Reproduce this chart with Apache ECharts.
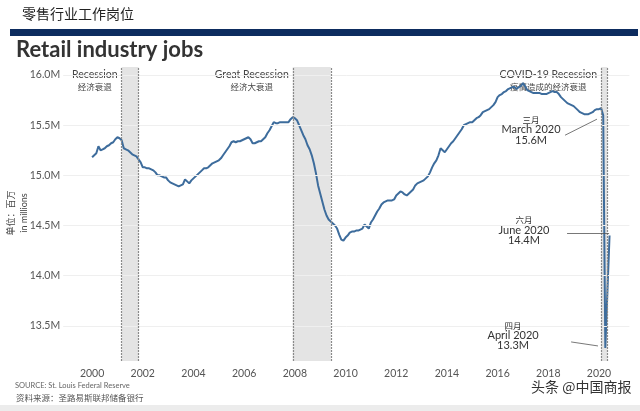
<!DOCTYPE html>
<html>
<head>
<meta charset="utf-8">
<script src="https://cdn.jsdelivr.net/npm/echarts@6/dist/echarts.min.js"></script>
<style>
html,body{margin:0;padding:0;background:#fff;}
#c{width:640px;height:411px;}
</style>
</head>
<body>
<div id="c"></div>
<script>
// ---- data ----
const firstYear = 2000; // first month = Jan 2000, monthly values (millions)
const retailJobs = [
  15.18,15.20,15.22,15.29,15.25,15.26,15.27,15.29,15.30,15.32,15.33,15.36, // 2000
  15.38,15.37,15.35,15.27,15.26,15.25,15.23,15.21,15.20,15.19,15.16,15.13, // 2001
  15.08,15.08,15.07,15.07,15.06,15.05,15.03,15.00,15.00,14.99,14.98,14.98, // 2002
  14.95,14.93,14.92,14.91,14.90,14.89,14.90,14.91,14.96,14.94,14.92,14.95, // 2003
  14.97,14.99,15.01,15.03,15.05,15.07,15.07,15.08,15.10,15.12,15.13,15.14, // 2004
  15.15,15.17,15.20,15.23,15.26,15.29,15.33,15.34,15.33,15.34,15.34,15.35, // 2005
  15.36,15.37,15.38,15.36,15.32,15.32,15.33,15.34,15.34,15.36,15.38,15.42, // 2006
  15.45,15.49,15.53,15.52,15.52,15.53,15.53,15.53,15.53,15.53,15.56,15.58, // 2007
  15.57,15.55,15.50,15.45,15.40,15.36,15.30,15.26,15.20,15.12,15.02,14.90, // 2008
  14.82,14.74,14.66,14.60,14.56,14.54,14.52,14.50,14.47,14.41,14.36,14.35, // 2009
  14.38,14.40,14.43,14.44,14.44,14.45,14.45,14.46,14.47,14.51,14.49,14.47, // 2010
  14.53,14.56,14.60,14.64,14.67,14.71,14.73,14.74,14.75,14.75,14.75,14.76, // 2011
  14.80,14.82,14.84,14.83,14.81,14.80,14.82,14.84,14.86,14.90,14.92,14.93, // 2012
  14.94,14.95,14.97,14.99,15.03,15.08,15.12,15.15,15.20,15.27,15.25,15.23, // 2013
  15.26,15.29,15.32,15.34,15.37,15.40,15.43,15.46,15.50,15.51,15.52,15.53, // 2014
  15.53,15.55,15.57,15.58,15.60,15.63,15.64,15.65,15.66,15.68,15.70,15.73, // 2015
  15.78,15.80,15.81,15.83,15.84,15.86,15.87,15.88,15.88,15.86,15.88,15.89, // 2016
  15.92,15.89,15.85,15.84,15.83,15.82,15.82,15.82,15.82,15.81,15.81,15.81, // 2017
  15.82,15.83,15.84,15.83,15.83,15.81,15.78,15.76,15.74,15.72,15.71,15.70, // 2018
  15.69,15.67,15.65,15.63,15.62,15.61,15.61,15.61,15.62,15.63,15.65,15.66, // 2019
  15.66,15.67,15.60,13.28,13.85,14.40                                      // 2020
];
const yearTicks = [2000,2002,2004,2006,2008,2010,2012,2014,2016,2018,2020];
const valueTicks = [13.5,14.0,14.5,15.0,15.5,16.0];
const recessions = [
  {start:'2001-03', end:'2001-11', label:'Recession', cn:'经济衰退'},
  {start:'2007-12', end:'2009-06', label:'Great Recession', cn:'经济大衰退'},
  {start:'2020-02', end:'2020-05', label:'COVID-19 Recession', cn:'疫情造成的经济衰退'}
];
const callouts = [
  {cn:'三月', en:'March 2020', val:'15.6M', text:[2017.32,15.45], from:[2018.66,15.40], to:[2019.92,15.56]},
  {cn:'六月', en:'June 2020', val:'14.4M', text:[2017.04,14.45], from:[2018.74,14.42], to:[2020.40,14.42]},
  {cn:'四月', en:'April 2020', val:'13.3M', text:[2016.61,13.40], from:[2018.90,13.34], to:[2019.96,13.30]}
];

// ---- build ----
function ym(s){const p=s.split('-');return +p[0]+(+p[1]-1)/12;}
const lineData = retailJobs.map((v,i)=>[firstYear+i/12, v]);

const chart = echarts.init(document.getElementById('c'), null, {renderer:'canvas'});
const txt = '#444';
chart.setOption({
  animation:false,
  backgroundColor:'#fff',
  grid:{left:63.2, right:10.6, top:67, bottom:50},
  xAxis:{type:'value', min:1998.86, max:2021.2,
    axisLine:{show:false}, axisTick:{show:false}, splitLine:{show:false},
    axisLabel:{customValues:yearTicks, formatter:v=>String(Math.round(v)), color:'#555', fontSize:10.5, margin:7, fontFamily:'Lato'}},
  yAxis:{type:'value', min:13.15, max:16.08,
    axisLine:{show:false}, axisTick:{show:false}, splitLine:{show:false},
    axisLabel:{customValues:valueTicks, formatter:v=>v.toFixed(1)+'M', color:'#555', fontSize:10.5, margin:3, fontFamily:'Lato'}},
  graphic:[
    {type:'text', left:22, top:7, style:{text:'零售行业工作岗位', font:'14px "Noto Sans CJK SC"', fill:'#222'}},
    {type:'rect', shape:{x:10,y:29,width:628,height:7}, style:{fill:'#0d2c5f'}},
    {type:'text', left:16, top:39, style:{text:'Retail industry jobs', font:'bold 22px Lato', fill:'#333'}},
    {type:'text', x:11, y:213, rotation:Math.PI/2, style:{text:'单位：百万', font:'9px "Noto Sans CJK SC"', fill:'#444', align:'center', verticalAlign:'middle'}},
    {type:'text', x:24, y:213, rotation:Math.PI/2, style:{text:'in millions', font:'9px Lato', fill:'#444', align:'center', verticalAlign:'middle'}},
    {type:'text', left:15, top:382, style:{text:'SOURCE: St. Louis Federal Reserve', font:'7.5px Lato', fill:'#666'}},
    {type:'text', left:16, top:394, style:{text:'资料来源：圣路易斯联邦储备银行', font:'8.5px "Noto Sans CJK SC"', fill:'#555'}},
    {type:'text', left:531, top:380, style:{text:'头条 @中国商报', font:'14px "Noto Sans CJK SC"', fill:'#333'}},
    {type:'rect', shape:{x:0,y:405,width:640,height:6}, style:{fill:'#ececec'}}
  ],
  series:[
    {type:'line', data:[], silent:true, z:1,
      markLine:{silent:true, symbol:'none', label:{show:false},
        lineStyle:{color:'#efefef', width:1, type:'solid'},
        data:valueTicks.map(v=>({yAxis:v}))}},
    {type:'line', data:[], silent:true, z:2,
      markArea:{silent:true, itemStyle:{color:'#e4e4e4'},
        data:recessions.map(r=>[{xAxis:ym(r.start),
          label:{show:true, position:[-3,2], align:'right', backgroundColor:'#fff', padding:[0,1],
            formatter:'{a|'+r.label+'}\n{b|'+r.cn+'}',
            rich:{a:{fontSize:10.5, color:txt, align:'center', lineHeight:12, fontFamily:'Lato'},
                  b:{fontSize:8.5, color:txt, align:'center', lineHeight:11, fontFamily:'Noto Sans CJK SC'}}}},
          {xAxis:ym(r.end)}])},
      markLine:{silent:true, symbol:'none', label:{show:false},
        lineStyle:{color:'#8a8a8a', width:1.2, type:[2,1]},
        data:recessions.flatMap(r=>[{xAxis:ym(r.start)},{xAxis:ym(r.end)}])}},
    {type:'line', data:lineData, showSymbol:false, z:3, silent:true,
      lineStyle:{color:'#3d6c9c', width:2}, itemStyle:{color:'#3d6c9c'},
      markLine:{silent:true, symbol:'none', label:{show:false},
        lineStyle:{color:'#555', width:0.8, type:'solid'},
        data:callouts.map(c=>[{coord:c.from},{coord:c.to}])},
      markPoint:{silent:true, symbol:'circle', symbolSize:0,
        data:callouts.map(c=>({coord:c.text,
          label:{show:true, position:'inside',
            formatter:'{a|'+c.cn+'}\n{b|'+c.en+'}\n{b|'+c.val+'}',
            rich:{a:{fontSize:8.5, color:'#333', align:'center', lineHeight:9.5, fontFamily:'Noto Sans CJK SC'},
                  b:{fontSize:11, color:'#333', align:'center', lineHeight:10.5, fontFamily:'Lato'}}}}))}}
  ]
});
</script>
</body>
</html>
